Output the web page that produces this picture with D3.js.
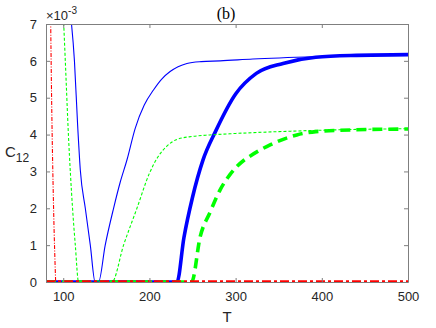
<!DOCTYPE html>
<html>
<head>
<meta charset="utf-8">
<script src="https://cdn.jsdelivr.net/npm/d3@7"></script>
<style>
  body { margin: 0; background: #fff; }
  svg { display: block; }
  .axis text { font-family: "Liberation Sans", Arial, sans-serif; font-size: 13px; fill: #262626; }
  .axis path, .axis line { stroke: #7f7f7f; }
</style>
</head>
<body>
<svg width="436" height="328"></svg>
<script>
// values (C in units of 1e-3)
var redThinT  = [85.3, 86.5, 88.8, 91.2];
var redThinC  = [7.3, 5.0, 2.0, 0.0];

var blueThinT = [108.3, 113, 116.6, 119.8, 125.6, 131.4, 137, 141, 148.7, 158.4, 166, 173.9, 183.5, 194, 204.7, 214, 224, 243.5, 260, 282, 320, 393, 450, 500];
var blueThinC = [7.3, 6.0, 4.3, 3.04, 2.0, 1.0, 0.0, 0.0, 1.0, 2.0, 2.7, 3.31, 4.17, 4.8, 5.21, 5.5, 5.71, 5.93, 5.98, 6.0, 6.05, 6.11, 6.14, 6.16];

var greenThinT = [100, 102.4, 106, 110.8, 114, 117.8, 156.5, 170, 185.5, 200, 210, 220, 232, 250, 270, 300, 350, 420, 500];
var greenThinC = [7.3, 6.0, 4.0, 2.0, 1.0, 0.0, 0.0, 1.0, 2.0, 2.95, 3.4, 3.68, 3.87, 3.95, 3.99, 4.03, 4.08, 4.13, 4.16];

var blueThickT = [80, 232, 240, 250, 262, 277, 300, 324, 355, 393, 440, 500];
var blueThickC = [0, 0, 1.2, 2.3, 3.3, 4.1, 5.1, 5.66, 5.93, 6.1, 6.15, 6.17];

var greenThickT = [80, 249, 258.9, 270.5, 282, 293, 310, 317, 340, 371, 393, 440, 500];
var greenThickC = [0, 0, 1.23, 1.9, 2.5, 2.9, 3.31, 3.42, 3.72, 3.99, 4.08, 4.13, 4.15];

var redThickT = [80, 500];
var redThickC = [0, 0];

var xTicks = [100, 200, 300, 400, 500];
var yTicks = [0, 1, 2, 3, 4, 5, 6, 7];

var svg = d3.select("svg"),
    margin = {left: 46, top: 24, right: 28, bottom: 46},
    width = 436 - margin.left - margin.right,
    height = 328 - margin.top - margin.bottom;

var x = d3.scaleLinear().domain([80, 500]).range([0, width]);
var y = d3.scaleLinear().domain([0, 7]).range([height, 0]);

var g = svg.append("g").attr("transform", "translate(" + margin.left + "," + margin.top + ")");

g.append("defs").append("clipPath").attr("id", "clip")
    .append("rect").attr("width", width).attr("height", height);

function pts(ts, cs) {
    return ts.map(function (t, i) { return [t, cs[i]]; });
}

var line = d3.line()
    .x(function (d) { return x(d[0]); })
    .y(function (d) { return y(d[1]); })
    .curve(d3.curveMonotoneX);

var series = [
    {d: pts(blueThickT, blueThickC), color: "#0000ff", w: 3.6, dash: null},
    {d: pts(greenThickT, greenThickC), color: "#00ff00", w: 3.6, dash: "10,6"},
    {d: pts(blueThinT, blueThinC), color: "#0000ff", w: 1.1, dash: null},
    {d: pts(greenThinT, greenThinC), color: "#00ff00", w: 1.1, dash: "3,2"},
    {d: pts(redThinT, redThinC), color: "#ff0000", w: 1.1, dash: "4,1.5,1,1.5"},
    {d: pts(redThickT, redThickC), color: "#ff0000", w: 3.6, dash: "9,3,3,3"}
];

var plot = g.append("g").attr("clip-path", "url(#clip)");
series.forEach(function (s) {
    plot.append("path")
        .attr("d", line(s.d))
        .attr("fill", "none")
        .attr("stroke", s.color)
        .attr("stroke-width", s.w)
        .attr("stroke-dasharray", s.dash);
});

// axes box
g.append("g").attr("class", "axis")
    .attr("transform", "translate(0," + height + ")")
    .call(d3.axisBottom(x).tickValues(xTicks).tickSizeInner(-4).tickSizeOuter(0).tickPadding(10));
g.append("g").attr("class", "axis")
    .call(d3.axisTop(x).tickValues(xTicks).tickSizeInner(-4).tickSizeOuter(0).tickFormat(""));
g.append("g").attr("class", "axis")
    .call(d3.axisLeft(y).tickValues(yTicks).tickSizeInner(-4).tickSizeOuter(0).tickPadding(9).tickFormat(d3.format("d")));
g.append("g").attr("class", "axis")
    .attr("transform", "translate(" + width + ",0)")
    .call(d3.axisRight(y).tickValues(yTicks).tickSizeInner(-4).tickSizeOuter(0).tickFormat(""));

var font = "Liberation Sans, Arial, sans-serif";

// exponent label
var ex = g.append("text").attr("x", 0).attr("y", -4)
    .attr("font-family", font).attr("font-size", 13).attr("fill", "#262626");
ex.append("tspan").text("\u00d710");
ex.append("tspan").attr("dy", -6).attr("font-size", 10).text("-3");

// axis labels
g.append("text").attr("x", width / 2).attr("y", height + 40)
    .attr("text-anchor", "middle").attr("font-family", font).attr("font-size", 15)
    .attr("fill", "#262626").text("T");

var yl = svg.append("text").attr("x", 5).attr("y", 157)
    .attr("font-family", font).attr("font-size", 15).attr("fill", "#262626");
yl.append("tspan").text("C");
yl.append("tspan").attr("dy", 5).attr("font-size", 12).text("12");

// panel title
svg.append("text").attr("x", 226).attr("y", 19)
    .attr("text-anchor", "middle").attr("font-family", "Liberation Serif, Times New Roman, serif")
    .attr("font-size", 16).attr("fill", "#000").text("(b)");
</script>
</body>
</html>
